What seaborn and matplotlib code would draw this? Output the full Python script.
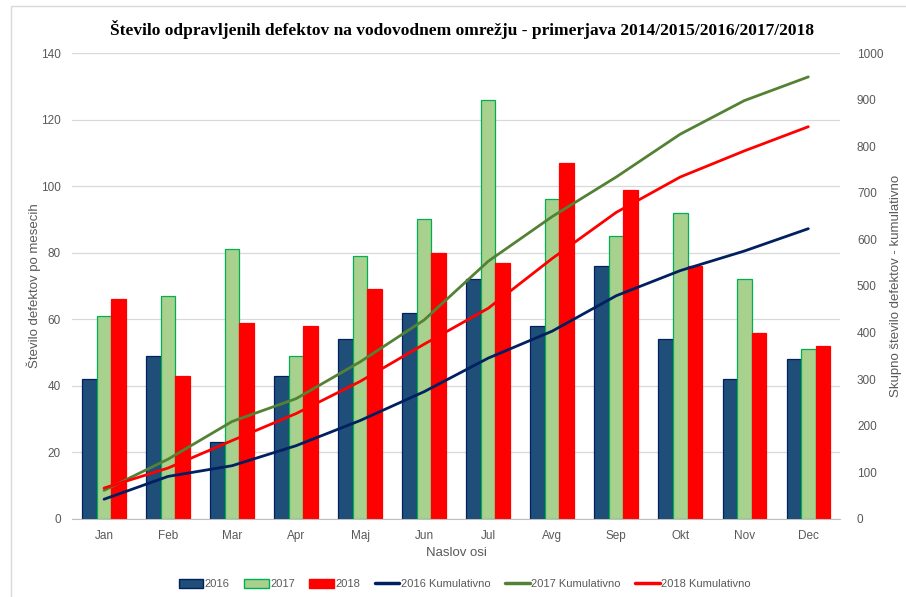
import numpy as np
import pandas as pd
import seaborn as sns
import matplotlib.pyplot as plt
from matplotlib.patches import Patch, Rectangle
from matplotlib.lines import Line2D

months = ['Jan', 'Feb', 'Mar', 'Apr', 'Maj', 'Jun', 'Jul', 'Avg', 'Sep', 'Okt', 'Nov', 'Dec']
years = ['2016', '2017', '2018']

# monthly counts (left axis)
defects_2016 = [42, 49, 23, 43, 54, 62, 72, 58, 76, 54, 42, 48]
defects_2017 = [61, 67, 81, 49, 79, 90, 126, 96, 85, 92, 72, 51]
defects_2018 = [66, 43, 59, 58, 69, 80, 77, 107, 99, 76, 56, 52]

# cumulative counts (right axis)
cum_2016 = [42, 91, 114, 157, 211, 273, 345, 403, 479, 533, 575, 623]
cum_2017 = [61, 128, 209, 258, 337, 427, 553, 649, 734, 826, 898, 949]
cum_2018 = [66, 109, 168, 226, 295, 375, 452, 559, 658, 734, 790, 842]

bar_colors = ['#1F4E79', '#A9D18E', '#FF0000']
bar_edges = ['#002060', '#00B050', '#FF0000']
line_colors = ['#002060', '#548235', '#FF0000']
text_color = '#595959'

sns.set_style('white')
plt.rcParams['font.family'] = ['Liberation Sans Narrow', 'Liberation Sans', 'DejaVu Sans']

df = pd.DataFrame({
    'Mesec': months * 3,
    'Leto': [y for y in years for _ in months],
    'Defekti': defects_2016 + defects_2017 + defects_2018,
})

fig = plt.figure(figsize=(9.06, 5.97), dpi=100)
ax = fig.add_axes([0.0795, 0.131, 0.848, 0.78])

sns.barplot(data=df, x='Mesec', y='Defekti', hue='Leto', order=months,
            hue_order=years, palette=bar_colors, width=0.68, gap=0,
            saturation=1, legend=False, ax=ax)
for cont, ec in zip(ax.containers, bar_edges):
    for bar in cont:
        bar.set_edgecolor(ec)
        bar.set_linewidth(0.9)

ax.set_ylim(0, 140)
ax.set_yticks(range(0, 141, 20))
ax.set_xlim(-0.5, 11.5)
ax.grid(axis='y', color='#D9D9D9', linewidth=0.9)
ax.set_axisbelow(True)
for s in ['left', 'right', 'top']:
    ax.spines[s].set_visible(False)
ax.spines['bottom'].set_color('#BFBFBF')
ax.tick_params(axis='both', length=0, colors=text_color, labelsize=8.5, pad=8)
ax.set_xlabel('Naslov osi', color=text_color, fontsize=9.5, labelpad=4)
ax.set_ylabel('Število defektov po mesecih', color=text_color, fontsize=9.5, labelpad=0)

ax2 = ax.twinx()
xpos = np.arange(len(months))
for vals, col in zip([cum_2016, cum_2017, cum_2018], line_colors):
    sns.lineplot(x=xpos, y=vals, color=col, linewidth=2.0, ax=ax2)
ax2.set_ylim(0, 1000)
ax2.set_yticks(range(0, 1001, 100))
ax2.set_xlim(-0.5, 11.5)
for s in ['left', 'right', 'top', 'bottom']:
    ax2.spines[s].set_visible(False)
ax2.tick_params(axis='y', length=0, colors=text_color, labelsize=8.5, pad=12)
ax2.set_ylabel('Skupno število defektov - kumulativno', color=text_color,
               fontsize=9.5, labelpad=5)

fig.suptitle('Število odpravljenih defektov na vodovodnem omrežju - primerjava 2014/2015/2016/2017/2018',
             x=0.51, y=0.967, fontsize=12.5, fontweight='bold',
             family=['Liberation Serif', 'DejaVu Serif'], color='black')

handles = [Patch(facecolor=fc, edgecolor=ec, label=y)
           for fc, ec, y in zip(bar_colors, bar_edges, years)]
handles += [Line2D([0], [0], color=c, linewidth=2.5, label=y + ' Kumulativno')
            for c, y in zip(line_colors, years)]
fig.legend(handles=handles, loc='center', bbox_to_anchor=(0.513, 0.022), ncol=6,
           frameon=False, fontsize=8, labelcolor=text_color,
           handlelength=2.2, handleheight=0.9, handletextpad=0.15, columnspacing=1.3)

fig.patches.append(Rectangle((0.012, -0.01), 0.99, 1.0, transform=fig.transFigure,
                             fill=False, edgecolor='#D9D9D9', linewidth=1))

fig.savefig('out.png', dpi=100)
